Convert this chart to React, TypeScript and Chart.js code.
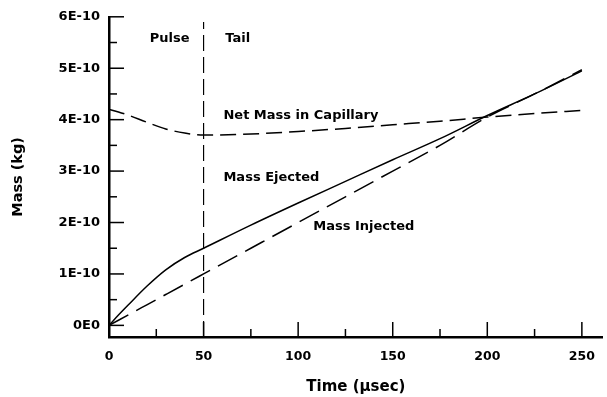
import React, { useEffect, useRef } from 'react';
import { Chart, registerables } from 'chart.js';
Chart.register(...registerables);

// Time in µs; masses in units of 1E-10 kg
const timeUs = [0, 5, 10, 20, 30, 40, 50, 75, 100, 125, 150, 175, 200, 225, 250];
const massEjected = [0, 0.2, 0.39, 0.76, 1.08, 1.32, 1.5, 1.95, 2.38, 2.8, 3.22, 3.63, 4.08, 4.5, 4.95];
const massInjected = [0, 0.1, 0.2, 0.4, 0.6, 0.8, 1.0, 1.5, 2.0, 2.5, 3.0, 3.5, 4.05, 4.5, 4.97];
const netMass = [4.2, 4.15, 4.09, 3.95, 3.82, 3.74, 3.7, 3.72, 3.77, 3.83, 3.9, 3.97, 4.05, 4.12, 4.18];
const pulseBoundaryUs = 50;

const yTickValues = [0, 0.5, 1, 1.5, 2, 2.5, 3, 3.5, 4, 4.5, 5, 5.5, 6];
const yTickLabels: Record<string, string> = {
  '0': '0E0', '1': '1E-10', '2': '2E-10', '3': '3E-10', '4': '4E-10', '5': '5E-10', '6': '6E-10',
};
const xTickValues = [0, 25, 50, 75, 100, 125, 150, 175, 200, 225, 250];
const xTickLabels: Record<string, string> = {
  '0': '0', '50': '50', '100': '100', '150': '150', '200': '200', '250': '250',
};

const annotations = [
  { text: 'Pulse', x: 21.5, y: 5.57 },
  { text: 'Tail', x: 61.5, y: 5.57 },
  { text: 'Net Mass in Capillary', x: 60.5, y: 4.08 },
  { text: 'Mass Ejected', x: 60.5, y: 2.88 },
  { text: 'Mass Injected', x: 108, y: 1.92 },
];

const Y_MIN = -0.226;
const Y_MAX = 6;
const X_MIN = 0;
const X_MAX = 261;
const FONT = '"DejaVu Sans", Arial, sans-serif';

const toPts = (ys: number[]) => ys.map((y, i) => ({ x: timeUs[i], y }));

const inwardTicks = {
  id: 'inwardTicks',
  afterDraw(chart: any) {
    const ctx = chart.ctx;
    const xs = chart.scales.x;
    const ys = chart.scales.y;
    const area = chart.chartArea;
    ctx.save();
    ctx.strokeStyle = '#000';
    ctx.lineWidth = 1.5;
    yTickValues.forEach((v) => {
      const py = ys.getPixelForValue(v);
      const major = Number.isInteger(v);
      ctx.beginPath();
      ctx.moveTo(area.left, py);
      ctx.lineTo(area.left + (major ? 15 : 8), py);
      ctx.stroke();
    });
    xTickValues.forEach((v) => {
      const px = xs.getPixelForValue(v);
      const major = v % 50 === 0;
      ctx.beginPath();
      ctx.moveTo(px, area.bottom);
      ctx.lineTo(px, area.bottom - (major ? 15 : 8));
      ctx.stroke();
    });
    ctx.fillStyle = '#000';
    ctx.font = `bold 13px ${FONT}`;
    ctx.textAlign = 'left';
    ctx.textBaseline = 'middle';
    annotations.forEach((a) => {
      ctx.fillText(a.text, xs.getPixelForValue(a.x), ys.getPixelForValue(a.y));
    });
    ctx.restore();
  },
};

export default function App() {
  const ref = useRef<HTMLCanvasElement | null>(null);
  useEffect(() => {
    if (!ref.current) return;
    const chart = new Chart(ref.current, {
      type: 'line',
      data: {
        datasets: [
          {
            label: 'Mass Ejected',
            data: toPts(massEjected),
            borderColor: '#000',
            borderWidth: 1.5,
            pointRadius: 0,
            cubicInterpolationMode: 'monotone',
          },
          {
            label: 'Mass Injected',
            data: toPts(massInjected),
            borderColor: '#000',
            borderWidth: 1.5,
            borderDash: [22, 9],
            pointRadius: 0,
            cubicInterpolationMode: 'monotone',
          },
          {
            label: 'Net Mass in Capillary',
            data: toPts(netMass),
            borderColor: '#000',
            borderWidth: 1.5,
            borderDash: [16, 7],
            pointRadius: 0,
            cubicInterpolationMode: 'monotone',
          },
          {
            label: 'Pulse / Tail',
            data: [
              { x: pulseBoundaryUs, y: Y_MIN },
              { x: pulseBoundaryUs, y: 5.9 },
            ],
            borderColor: '#000',
            borderWidth: 1.2,
            borderDash: [16, 6],
            pointRadius: 0,
          },
        ],
      },
      options: {
        animation: false,
        responsive: true,
        maintainAspectRatio: false,
        layout: { padding: { top: 15, right: 2, left: 0, bottom: 0 } },
        plugins: { legend: { display: false }, tooltip: { enabled: false } },
        scales: {
          x: {
            type: 'linear',
            min: X_MIN,
            max: X_MAX,
            afterBuildTicks: (s: any) => {
              s.ticks = xTickValues.map((value) => ({ value }));
            },
            afterFit: (s: any) => {
              s.height = 60;
            },
            grid: { display: false, drawTicks: false },
            border: { display: true, color: '#000', width: 2.5 },
            ticks: {
              autoSkip: false,
              maxRotation: 0,
              padding: 12,
              color: '#000',
              font: { family: FONT, size: 12.5, weight: 'bold' },
              callback: (v: any) => xTickLabels[String(v)] ?? '',
            },
            title: {
              display: true,
              text: 'Time (µsec)',
              color: '#000',
              font: { family: FONT, size: 15, weight: 'bold' },
              padding: { top: 4, bottom: 1 },
            },
          },
          y: {
            type: 'linear',
            min: Y_MIN,
            max: Y_MAX,
            afterBuildTicks: (s: any) => {
              s.ticks = yTickValues.map((value) => ({ value }));
            },
            afterFit: (s: any) => {
              s.width = 109;
            },
            grid: { display: false, drawTicks: false },
            border: { display: true, color: '#000', width: 2.5 },
            ticks: {
              autoSkip: false,
              padding: 9,
              color: '#000',
              font: { family: FONT, size: 13, weight: 'bold' },
              callback: (v: any) => yTickLabels[String(v)] ?? '',
            },
            title: {
              display: true,
              text: 'Mass (kg)',
              color: '#000',
              font: { family: FONT, size: 14.5, weight: 'bold' },
              padding: { top: 10, bottom: 4 },
            },
          },
        },
      },
      plugins: [inwardTicks],
    });
    return () => chart.destroy();
  }, []);
  return (
    <div style={{ position: 'absolute', left: 0, top: 0, width: 607, height: 397, background: '#fff' }}>
      <canvas ref={ref} />
    </div>
  );
}
